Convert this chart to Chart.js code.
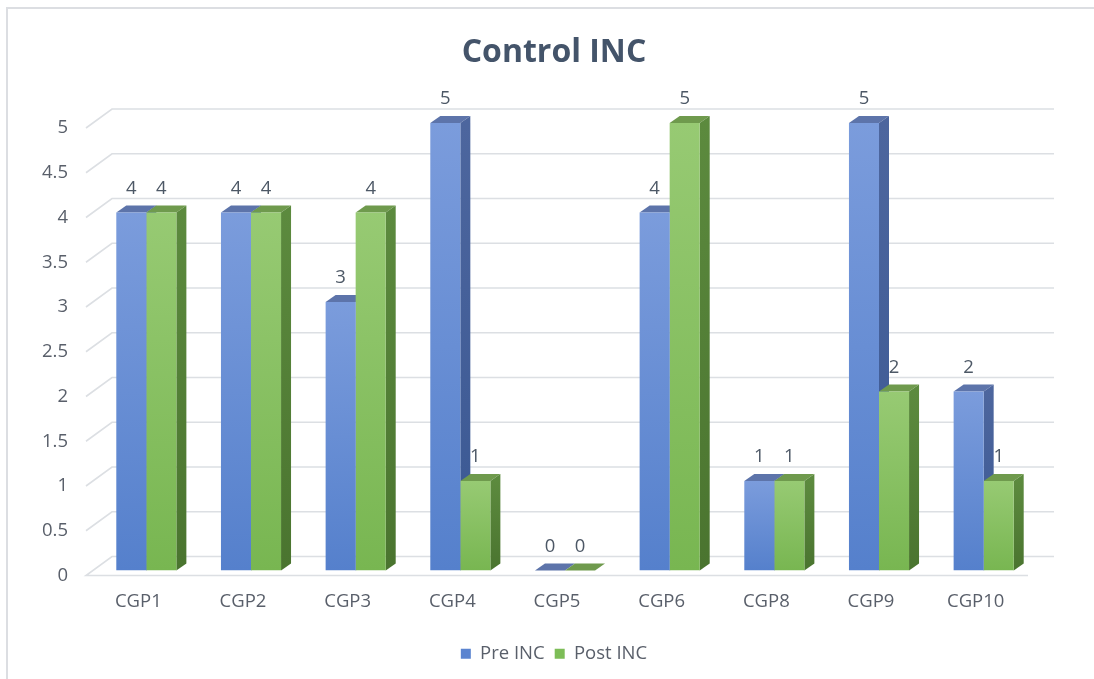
<!DOCTYPE html>
<html>
<head>
  <script src="https://cdn.jsdelivr.net/npm/chart.js"></script>
  <style>
    body { margin: 0; background: #fff; overflow: hidden; }
    .frame { position: absolute; left: 6px; top: 7px; width: 1200px; height: 800px; border: 2px solid #dcdee2; }
    canvas { position: absolute; left: 0; top: 0; }
  </style>
</head>
<body>
  <div class="frame"></div>
  <canvas id="incChart" width="1094" height="679"></canvas>
<script>
  // values
  var categories = ['CGP1', 'CGP2', 'CGP3', 'CGP4', 'CGP5', 'CGP6', 'CGP8', 'CGP9', 'CGP10'];
  var preInc = [4, 4, 3, 5, 0, 4, 1, 5, 2];
  var postInc = [4, 4, 4, 1, 0, 5, 1, 2, 1];
  var seriesNames = ['Pre INC', 'Post INC'];

  // looks of the 3D bars
  var depthX = 10, depthY = -7;     // bar depth
  var wallX = 26, wallY = -19;      // back wall offset
  var barShiftX = 8, barShiftY = -5;
  var textColor = '#595f6a';
  var faces = [
    { front: ['#7b9cdc', '#5580cc'], top: '#5d74aa', side: ['#4d669e', '#3a5893'], legend: '#5b84d0' },
    { front: ['#97ca73', '#78b651'], top: '#6f9a4d', side: ['#5c8a3e', '#4a742f'], legend: '#7dbd57' }
  ];

  function frontColor(ctx) {
    var f = faces[ctx.datasetIndex].front;
    var chart = ctx.chart;
    if (!chart.chartArea || !chart.scales.y || ctx.parsed == null) return f[1];
    var y = chart.scales.y;
    var top = y.getPixelForValue(ctx.parsed.y);
    var bottom = y.getPixelForValue(0);
    if (bottom - top < 1) return f[1];
    var g = chart.ctx.createLinearGradient(0, top, 0, bottom);
    g.addColorStop(0, f[0]);
    g.addColorStop(1, f[1]);
    return g;
  }

  var bars3d = {
    id: 'bars3d',
    beforeDatasetsDraw: function (chart) {
      var c = chart.ctx, area = chart.chartArea, y = chart.scales.y;
      // back wall grid lines
      c.save();
      c.strokeStyle = '#dcdfe3';
      c.lineWidth = 1.6;
      y.ticks.forEach(function (t) {
        var py = y.getPixelForValue(t.value);
        c.beginPath();
        if (t.value === 0) {
          c.moveTo(area.right, py);
          c.lineTo(area.left, py);
        } else {
          c.moveTo(area.left, py);
        }
        c.lineTo(area.left + wallX, py + wallY);
        c.lineTo(area.right + wallX, py + wallY);
        c.stroke();
      });
      c.restore();

      // tops and sides, front faces follow from chart.js
      c.save();
      c.translate(barShiftX, barShiftY);
      chart.data.datasets.forEach(function (ds, di) {
        chart.getDatasetMeta(di).data.forEach(function (bar) {
          var p = bar.getProps(['x', 'y', 'base', 'width'], true);
          var l = p.x - p.width / 2, r = p.x + p.width / 2;
          c.fillStyle = faces[di].top;
          c.beginPath();
          c.moveTo(l, p.y);
          c.lineTo(l + depthX, p.y + depthY);
          c.lineTo(r + depthX, p.y + depthY);
          c.lineTo(r, p.y);
          c.closePath();
          c.fill();
          if (p.base - p.y > 0.5) {
            var g = c.createLinearGradient(0, p.y, 0, p.base);
            g.addColorStop(0, faces[di].side[0]);
            g.addColorStop(1, faces[di].side[1]);
            c.fillStyle = g;
            c.beginPath();
            c.moveTo(r, p.y);
            c.lineTo(r + depthX, p.y + depthY);
            c.lineTo(r + depthX, p.base + depthY);
            c.lineTo(r, p.base);
            c.closePath();
            c.fill();
          }
        });
      });
    },
    afterDatasetsDraw: function (chart) {
      var c = chart.ctx;
      c.fillStyle = '#4d5866';
      c.font = '18.5px "Open Sans"';
      c.textAlign = 'center';
      c.textBaseline = 'middle';
      chart.data.datasets.forEach(function (ds, di) {
        chart.getDatasetMeta(di).data.forEach(function (bar, i) {
          c.fillText(String(ds.data[i]), bar.x, bar.y - 24);
        });
      });
      c.restore();
    }
  };

  var ctx = document.getElementById('incChart').getContext('2d');
  var incChart = new Chart(ctx, {
    type: 'bar',
    data: {
      labels: categories,
      datasets: [
        { label: seriesNames[0], data: preInc, backgroundColor: frontColor },
        { label: seriesNames[1], data: postInc, backgroundColor: frontColor }
      ]
    },
    options: {
      responsive: false,
      animation: false,
      layout: { padding: { left: 14, right: 0, top: 0, bottom: 6 } },
      datasets: { bar: { categoryPercentage: 0.574, barPercentage: 1 } },
      scales: {
        x: {
          grid: { display: false, drawTicks: false },
          border: { display: false },
          ticks: { color: textColor, padding: 15, font: { family: 'Open Sans', size: 18.5 } },
          afterFit: function (s) { s.height = 59; }
        },
        y: {
          min: 0,
          max: 5,
          grid: { display: false, drawTicks: false },
          border: { display: false },
          ticks: {
            stepSize: 0.5,
            color: textColor,
            padding: 18,
            font: { family: 'Open Sans', size: 18.5 },
            callback: function (v) { return String(Number(v)); }
          },
          afterFit: function (s) { s.width = 72; }
        },
        // empty room on the right, keeps the title and legend centred on the page
        yr: {
          type: 'linear',
          position: 'right',
          display: true,
          grid: { display: false, drawTicks: false },
          border: { display: false },
          ticks: { display: false },
          afterFit: function (s) { s.width = 66; }
        }
      },
      plugins: {
        title: {
          display: true,
          text: 'Control INC',
          color: '#44546a',
          font: { family: 'Open Sans', size: 32, weight: 'bold' },
          padding: { top: 34, bottom: 55.6 }
        },
        legend: {
          position: 'bottom',
          labels: {
            boxWidth: 10,
            boxHeight: 10,
            padding: 10,
            color: textColor,
            font: { family: 'Open Sans', size: 18.5 },
            generateLabels: function (chart) {
              return chart.data.datasets.map(function (ds, i) {
                return { text: ds.label, fillStyle: faces[i].legend, strokeStyle: faces[i].legend, lineWidth: 0, datasetIndex: i, fontColor: textColor };
              });
            }
          }
        },
        tooltip: { enabled: false }
      }
    },
    plugins: [bars3d]
  });
</script>
</body>
</html>
